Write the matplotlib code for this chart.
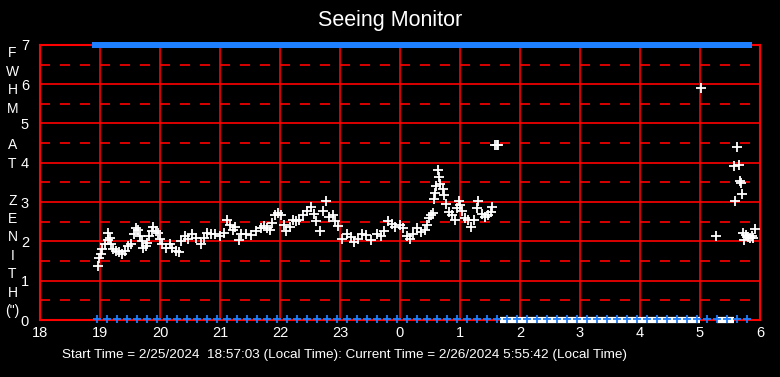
import numpy as np
import matplotlib
matplotlib.use('Agg')
import matplotlib.pyplot as plt

plt.rcParams['font.family'] = ['Liberation Sans', 'DejaVu Sans']

# hours since midnight of 2/25 (24 = 0h of 2/26)
times = [18.96, 18.99, 19.02, 19.04, 19.08, 19.13, 19.14, 19.17, 19.18, 19.22,
         19.27, 19.32, 19.36, 19.41, 19.46, 19.52, 19.56, 19.60, 19.64, 19.67,
         19.70, 19.71, 19.76, 19.79, 19.82, 19.87, 19.89, 19.93, 19.97, 20.00,
         20.04, 20.10, 20.16, 20.20, 20.26, 20.31, 20.35, 20.41, 20.46, 20.54,
         20.60, 20.68, 20.74, 20.79, 20.85, 20.92, 21.00, 21.07, 21.12, 21.16,
         21.21, 21.25, 21.31, 21.35, 21.43, 21.52, 21.60, 21.68, 21.74, 21.79,
         21.84, 21.86, 21.91, 21.96, 22.02, 22.06, 22.10, 22.16, 22.21, 22.27,
         22.32, 22.38, 22.45, 22.52, 22.56, 22.60, 22.66, 22.71, 22.76, 22.81,
         22.88, 22.92, 22.97, 23.03, 23.11, 23.19, 23.24, 23.30, 23.36, 23.44,
         23.52, 23.61, 23.69, 23.74, 23.80, 23.86, 23.91, 24.00, 24.05, 24.11,
         24.16, 24.22, 24.28, 24.35, 24.41, 24.45, 24.49, 24.52, 24.55, 24.56,
         24.58, 24.60, 24.63, 24.65, 24.67, 24.71, 24.73, 24.76, 24.82, 24.87,
         24.91, 24.95, 24.98, 25.00, 25.04, 25.08, 25.13, 25.19, 25.24, 25.28,
         25.30, 25.36, 25.41, 25.47, 25.51, 25.54, 25.59, 25.61, 25.63, 29.02,
         29.27, 29.57, 29.59, 29.62, 29.65, 29.67, 29.68, 29.70, 29.72, 29.74,
         29.76, 29.80, 29.84, 29.87, 29.89, 29.91]
fwhm = [1.38, 1.59, 1.68, 1.80, 1.94, 2.03, 2.22, 2.09, 1.93, 1.80,
        1.76, 1.72, 1.69, 1.76, 1.88, 1.94, 2.18, 2.34, 2.30, 2.13,
        2.01, 1.84, 1.88, 1.97, 2.13, 2.26, 2.38, 2.26, 2.22, 2.05,
        1.93, 1.84, 1.93, 1.83, 1.76, 1.72, 2.01, 2.13, 2.05, 2.18,
        2.09, 1.93, 2.09, 2.22, 2.18, 2.19, 2.13, 2.22, 2.55, 2.43,
        2.30, 2.38, 2.03, 2.18, 2.19, 2.16, 2.26, 2.34, 2.40, 2.34,
        2.28, 2.47, 2.68, 2.72, 2.68, 2.43, 2.26, 2.38, 2.55, 2.53,
        2.55, 2.68, 2.78, 2.88, 2.69, 2.51, 2.26, 2.78, 3.03, 2.63,
        2.68, 2.51, 2.40, 2.07, 2.18, 2.11, 1.98, 2.05, 2.18, 2.16,
        2.03, 2.18, 2.13, 2.26, 2.51, 2.44, 2.38, 2.41, 2.34, 2.13,
        2.05, 2.18, 2.34, 2.24, 2.28, 2.43, 2.59, 2.68, 2.72, 3.09,
        3.24, 3.40, 3.82, 3.65, 3.47, 3.34, 3.18, 2.94, 2.76, 2.68,
        2.55, 2.84, 3.03, 2.93, 2.78, 2.59, 2.55, 2.36, 2.55, 2.84,
        3.03, 2.69, 2.63, 2.68, 2.76, 2.88, 4.45, 4.45, 4.45, 5.90,
        2.15, 3.93, 3.03, 4.40, 3.95, 3.55, 3.48, 3.20, 2.22, 2.03,
        2.16, 2.12, 2.09, 2.13, 2.08, 2.32]

# periods where the measured value is 0
zero_spans = [(25.66, 29.00), (29.29, 29.57)]
# status flags, one every 10 minutes
flag_start, flag_end, flag_step = 18.95, 29.95, 1 / 6
bottom_flag_end = 29.85

xticks = list(range(18, 31))
xlabels = ['18', '19', '20', '21', '22', '23', '0', '1', '2', '3', '4', '5', '6']
ylabel = ['F', 'W', 'H', 'M', '', 'A', 'T', '', 'Z', 'E', 'N', 'I', 'T', 'H', '(")']

red = '#ff0000'
blue = '#1e7fff'

fig = plt.figure(figsize=(7.8, 3.77), dpi=100, facecolor='black')
ax = fig.add_axes([0.0513, 0.151, 0.923, 0.730])
ax.set_facecolor('black')
ax.set_xlim(18, 30)
ax.set_ylim(0, 7)

# grid
for y in range(1, 7):
    ax.axhline(y, color=red, lw=1.2, zorder=1)
for y in np.arange(0.5, 7, 1.0):
    ax.axhline(y, color=red, lw=1.2, dashes=(6, 6), zorder=1)
for x in range(19, 30):
    ax.axvline(x, color=red, lw=1.2, zorder=1)
for s in ax.spines.values():
    s.set_color(red)
    s.set_linewidth(1.5)

# zero readings
for a, b in zero_spans:
    ax.plot([a, b], [0, 0], color='white', lw=4.5, solid_capstyle='butt',
            zorder=3, clip_on=False)

# flags
flags = np.arange(flag_start, flag_end, flag_step)
rect = [(-1, -0.62), (1, -0.62), (1, 0.62), (-1, 0.62)]
ax.plot(flags, np.full(len(flags), 7.0), ls='none', marker=rect,
        ms=6.5, mew=0, color=blue, zorder=4, clip_on=False)
bflags = flags[flags <= bottom_flag_end]
ax.plot(bflags, np.full(len(bflags), 0.03), ls='none', marker='+',
        ms=5.5, mew=1.3, color=blue, zorder=5, clip_on=False)

# FWHM measurements
ax.plot(times, fwhm, ls='none', marker='+', ms=7, mew=1.3, color='white',
        zorder=4)

ax.set_xticks(xticks)
ax.set_xticklabels(xlabels)
ax.set_yticks(range(0, 8))
ax.tick_params(length=0, colors='white', labelsize=10.5)
ax.tick_params(axis='x', pad=4)
ax.tick_params(axis='y', pad=8)

fig.text(0.5, 0.945, 'Seeing Monitor', color='white', fontsize=15.5,
         ha='center', va='center')
fig.text(0.016, 0.877, '\n'.join(ylabel), color='white', fontsize=10,
         ha='center', va='top', linespacing=1.4)
fig.text(0.079, 0.058,
         'Start Time = 2/25/2024  18:57:03 (Local Time): Current Time = 2/26/2024 5:55:42 (Local Time)',
         color='white', fontsize=9.7, ha='left', va='center')

fig.savefig('out.png', dpi=100, facecolor='black')
